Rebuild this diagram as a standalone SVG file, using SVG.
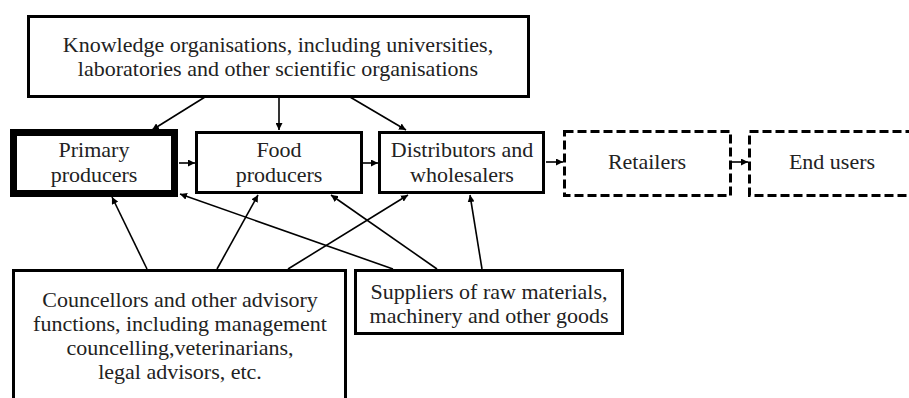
<svg xmlns="http://www.w3.org/2000/svg" width="909" height="398" viewBox="0 0 909 398">
<defs>
<style>
.box{fill:#fff;stroke:#000;stroke-width:3}
.thick{fill:#fff;stroke:#000;stroke-width:7}
.dash{fill:#fff;stroke:#000;stroke-width:3;stroke-dasharray:9 4}
text{font-family:'Liberation Serif','Times New Roman',serif;font-size:22px;fill:#222;text-anchor:middle}
.c line{stroke:#000;stroke-width:1.6;marker-end:url(#ah)}
</style>
<marker id="ah" viewBox="0 0 10 10" refX="10" refY="5" markerWidth="7" markerHeight="7" markerUnits="userSpaceOnUse" orient="auto">
<path d="M0,0 L10,5 L0,10 z" fill="#000"/>
</marker>
</defs>
<g id="knowledge">
<rect class="box" x="28.5" y="16.5" width="500" height="80"/>
<text x="278" y="52">Knowledge organisations, including universities,</text>
<text x="278" y="76">laboratories and other scientific organisations</text>
</g>
<g id="primary">
<rect class="thick" x="13.5" y="132.5" width="161" height="61"/>
<text x="94" y="157">Primary</text>
<text x="94" y="182">producers</text>
</g>
<g id="food">
<rect class="box" x="196.5" y="132.5" width="165" height="60"/>
<text x="279" y="157">Food</text>
<text x="279" y="182">producers</text>
</g>
<g id="distributors">
<rect class="box" x="379.5" y="132.5" width="164" height="60"/>
<text x="462" y="157">Distributors and</text>
<text x="462" y="182">wholesalers</text>
</g>
<g id="retailers">
<rect class="dash" x="564.5" y="131.5" width="166" height="64"/>
<text x="647" y="169">Retailers</text>
</g>
<g id="endusers">
<rect class="dash" x="749.5" y="131.5" width="170" height="64"/>
<text x="832" y="169">End users</text>
</g>
<g id="councellors">
<rect class="box" x="13.5" y="270.5" width="332" height="140"/>
<text x="180" y="307">Councellors and other advisory</text>
<text x="180" y="331">functions, including management</text>
<text x="180" y="355">councelling,veterinarians,</text>
<text x="180" y="379">legal advisors, etc.</text>
</g>
<g id="suppliers">
<rect class="box" x="355.5" y="270.5" width="267" height="63"/>
<text x="489" y="299">Suppliers of raw materials,</text>
<text x="489" y="323">machinery and other goods</text>
</g>
<g id="connectors" class="c">
<line x1="205" y1="97" x2="152" y2="130"/>
<line x1="279" y1="97" x2="279" y2="130"/>
<line x1="350" y1="97" x2="406" y2="130"/>
<line x1="179" y1="163" x2="195" y2="163"/>
<line x1="363" y1="163" x2="378" y2="163"/>
<line x1="546" y1="162" x2="563" y2="162"/>
<line x1="732" y1="162" x2="748" y2="162"/>
<line x1="147" y1="269" x2="112" y2="197"/>
<line x1="217" y1="269" x2="258" y2="195"/>
<line x1="288" y1="269" x2="408" y2="195"/>
<line x1="393" y1="269" x2="180" y2="194"/>
<line x1="437" y1="269" x2="331" y2="195"/>
<line x1="482" y1="269" x2="470" y2="195"/>
</g>
</svg>
